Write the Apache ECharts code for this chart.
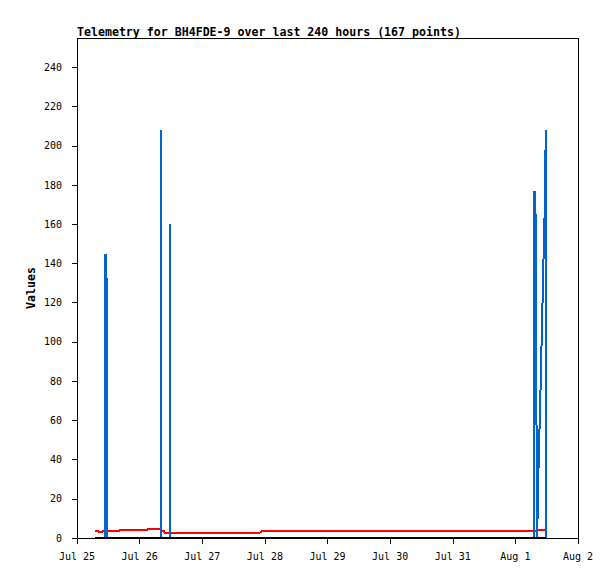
<!DOCTYPE html>
<html>
<head>
<meta charset="utf-8">
<script src="https://cdn.jsdelivr.net/npm/echarts@6/dist/echarts.min.js"></script>
<style>
html,body{margin:0;padding:0;background:#fff;}
#chart{width:615px;height:579px;}
#chart svg path{shape-rendering:crispEdges;}
</style>
</head>
<body>
<div id="chart"></div>
<script>
// Hours since Jul 25 00:00
var hours = [6.90, 8.20, 8.50, 9.60, 9.90, 10.90, 10.92, 11.45, 11.47, 16.30,
  16.60, 27.00, 27.30, 32.08, 32.10, 32.12, 32.60, 33.20, 33.50, 35.54,
  35.56, 35.58, 70.30, 70.70, 140.10, 140.50, 175.31, 175.33, 175.90, 176.21,
  176.52, 176.82, 177.24, 177.66, 178.05, 178.43, 178.82, 179.20, 179.66, 179.68];
var blueValues = [0, 0, 0, 0, 0, 0, 145, 128, 0, 0,
  0, 0, 0, 0, 208, 0, 0, 0, 0, 0,
  160, 0, 0, 0, 0, 0, 0, 177, 160, 0,
  11, 33, 55, 77, 100, 121, 144, 165, 208, 0];
var redValues = [3.7, 3.7, 3.1, 3.1, 3.8, 3.8, 3.8, 3.8, 3.8, 3.8,
  4.2, 4.2, 4.8, 4.8, 4.8, 4.8, 3.7, 3.7, 2.8, 2.8,
  2.8, 2.8, 2.8, 3.4, 3.4, 3.75, 3.75, 3.75, 3.75, 3.75,
  3.8, 4.0, 4.0, 4.0, 4.0, 4.1, 4.1, 4.2, 4.2, 4.2];
var blackValues = [0, 0, 0, 0, 0, 0, 0, 0, 0, 0,
  0, 0, 0, 0, 0, 0, 0, 0, 0, 0,
  0, 0, 0, 0, 0, 0, 0, 0, 0, 0,
  0, 0, 0, 0, 0, 0, 0, 0, 0, 0];
var xTickLabels = ['Jul 25', 'Jul 26', 'Jul 27', 'Jul 28', 'Jul 29', 'Jul 30', 'Jul 31', 'Aug 1', 'Aug 2'];
var yTickValues = [0, 20, 40, 60, 80, 100, 120, 140, 160, 180, 200, 220, 240];
var titleText = 'Telemetry for BH4FDE-9 over last 240 hours (167 points)';

function pairs(vals) {
  return hours.map(function (h, i) { return [h, vals[i]]; });
}

var FONT = 'DejaVu Sans Mono';
var chart = echarts.init(document.getElementById('chart'), null, {renderer: 'svg'});
chart.setOption({
  animation: false,
  backgroundColor: '#fff',
  title: {
    text: titleText,
    left: 77, top: 26, padding: 0,
    textStyle: {fontFamily: FONT, fontSize: 11.6, fontWeight: 'bold', color: '#000'}
  },
  grid: {left: 77, top: 38, right: 37, bottom: 41, show: true, borderColor: '#000', borderWidth: 1, backgroundColor: 'transparent'},
  xAxis: {
    type: 'value', min: 0, max: 192, interval: 24,
    axisLine: {lineStyle: {color: '#000', width: 1}},
    axisTick: {show: true, inside: false, length: 6, lineStyle: {color: '#000'}},
    axisLabel: {
      margin: 13, fontFamily: FONT, fontSize: 10, color: '#000',
      formatter: function (v) { return xTickLabels[Math.round(v / 24)] || ''; }
    },
    splitLine: {show: false}
  },
  yAxis: {
    type: 'value', min: 0, max: 255, interval: 20,
    name: 'Values', nameLocation: 'middle', nameRotate: 90, nameGap: 40, nameMoveOverlap: false,
    nameTextStyle: {fontFamily: FONT, fontSize: 11.6, fontWeight: 'bold', color: '#000'},
    axisLine: {lineStyle: {color: '#000', width: 1}},
    axisTick: {show: true, inside: false, length: 5, lineStyle: {color: '#000'}, customValues: yTickValues},
    axisLabel: {
      margin: 15, fontFamily: FONT, fontSize: 10, color: '#000', customValues: yTickValues,
      formatter: function (v) { return (v % 20 === 0) ? String(v) : ''; }
    },
    splitLine: {show: false}
  },
  series: [
    {type: 'line', data: pairs(redValues), showSymbol: false, symbol: 'none',
     lineStyle: {color: '#ff0000', width: 2}, itemStyle: {color: '#ff0000'}},
    {type: 'line', data: pairs(blueValues), showSymbol: false, symbol: 'none',
     lineStyle: {color: '#0066cc', width: 2}, itemStyle: {color: '#0066cc'}},
    {type: 'line', data: pairs(blackValues), showSymbol: false, symbol: 'none',
     lineStyle: {color: '#000000', width: 2}, itemStyle: {color: '#000'}}
  ]
});
</script>
</body>
</html>
